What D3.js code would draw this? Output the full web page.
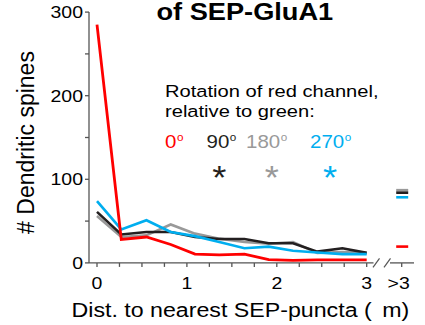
<!DOCTYPE html>
<html><head><meta charset="utf-8">
<script src="https://cdn.jsdelivr.net/npm/d3@7"></script>
<style>html,body{margin:0;padding:0;background:#fff;}svg{display:block;}</style>
</head><body>
<svg id="c" width="425" height="325"></svg>
<script>
// ---- data ----
const bins = [0, 0.27, 0.55, 0.82, 1.09, 1.36, 1.64, 1.91, 2.18, 2.45, 2.73, 3.0];
const seriesNames = ["180", "90", "270", "0"];
const gray180 = [56, 31, 33, 46, 35, 29, 25, 23, 25, 12, 13, 12];
const black90 = [61, 34, 37, 37, 31, 28.5, 28.5, 23.5, 23.5, 13.5, 17.5, 12];
const blue270 = [74, 40, 51, 37, 32, 25, 17.5, 19.5, 14.5, 12.5, 10.5, 10.5];
const red0 = [285, 28, 31, 22, 10.5, 9.5, 10.5, 4, 3, 3.5, 3.5, 3.5];
const over3 = [87, 84, 78.5, 19.5]; // gray, black, blue, red
const seriesColors = ["#999999", "#231f20", "#00aeef", "#ff0000"];
const yTicks = [0, 100, 200, 300];
const yMinor = [50, 150, 250];
const xTickLabels = ["0", "1", "2", "3"];

const svg = d3.select("#c");
const FONT = "Liberation Sans, Arial, Helvetica, sans-serif";
const x = d3.scaleLinear().domain([0, 3]).range([97, 366.7]);
const y = d3.scaleLinear().domain([0, 300]).range([262.9, 12.1]);
const x0 = 89, yBase = y(0);
const overX = x(3) + 35;
const axisColor = "#555";

function txt(px, py, str, o = {}) {
  const t = svg.append("text")
    .attr("transform", `translate(${px},${py}) scale(${o.sx || 1.17},1)` + (o.rot ? ` rotate(${o.rot})` : ""))
    .attr("font-family", FONT)
    .attr("font-size", o.fs || 17)
    .attr("font-weight", o.bold ? "bold" : "normal")
    .attr("text-anchor", o.anchor || "start")
    .attr("fill", o.fill || "#000");
  if (str !== null) t.text(str);
  return t;
}

// ---- y axis ----
const yAxis = svg.append("g");
yAxis.append("line").attr("x1", x0).attr("x2", x0).attr("y1", y(300)).attr("y2", yBase)
  .attr("stroke", axisColor).attr("stroke-width", 1.3);
yTicks.concat(yMinor).forEach(v => {
  yAxis.append("line").attr("x1", x0 - 4).attr("x2", x0).attr("y1", y(v)).attr("y2", y(v))
    .attr("stroke", axisColor).attr("stroke-width", 1.3);
});
yTicks.forEach(v => txt(83, y(v) + 6, String(v), {anchor: "end", fs: 16.5, sx: 1.18}));

// ---- x axis ----
const xAxis = svg.append("g");
xAxis.append("line").attr("x1", x0).attr("x2", 373.5).attr("y1", yBase).attr("y2", yBase)
  .attr("stroke", axisColor).attr("stroke-width", 1.3);
xAxis.append("line").attr("x1", 390).attr("x2", 414).attr("y1", yBase).attr("y2", yBase)
  .attr("stroke", axisColor).attr("stroke-width", 1.3);
[[373, 379.5], [384, 390.5]].forEach(([a, b]) => {
  xAxis.append("line").attr("x1", a).attr("x2", b).attr("y1", yBase + 4.5).attr("y2", yBase - 4.5)
    .attr("stroke", axisColor).attr("stroke-width", 1.2);
});
d3.range(0, 13).map(i => i * 0.25).forEach(v => {
  xAxis.append("line").attr("x1", x(v)).attr("x2", x(v)).attr("y1", yBase).attr("y2", yBase + 4)
    .attr("stroke", axisColor).attr("stroke-width", 1.3);
});
xAxis.append("line").attr("x1", overX).attr("x2", overX).attr("y1", yBase).attr("y2", yBase + 4)
  .attr("stroke", axisColor).attr("stroke-width", 1.3);
xTickLabels.forEach((s, i) => txt(x(i), 288.5, s, {anchor: "middle", fs: 16.5, sx: 1.18}));
txt(overX - 3, 288.5, ">3", {anchor: "middle", fs: 16.5, sx: 1.18});

// ---- axis titles ----
const xt = txt(71.5, 316.5, null, {fs: 20, sx: 1.16});
xt.append("tspan").text("Dist. to nearest SEP-puncta (");
xt.append("tspan").attr("dx", 9).text("m)");
txt(33.5, 142.5, "# Dendritic spines", {anchor: "middle", fs: 23, sx: 1, rot: -90});

// ---- title (partially visible) ----
txt(156.5, 20.3, "of SEP-GluA1", {fs: 24.5, bold: true, sx: 1.11});

// ---- lines ----
const line = d3.line().x((d, i) => x(bins[i])).y(d => y(d));
[gray180, black90, blue270, red0].forEach((arr, k) => {
  svg.append("path").datum(arr).attr("d", line).attr("fill", "none")
    .attr("stroke", seriesColors[k]).attr("stroke-width", k === 3 ? 2.8 : 2.6)
    .attr("stroke-linejoin", "miter");
});
over3.forEach((v, k) => {
  svg.append("line").attr("x1", overX - 5.5).attr("x2", overX + 6.5).attr("y1", y(v)).attr("y2", y(v))
    .attr("stroke", seriesColors[k]).attr("stroke-width", 2.6);
});

// ---- legend ----
txt(165, 97.3, "Rotation of red channel,", {fs: 17.2});
txt(165, 116.5, "relative to green:", {fs: 17.2});
const legItems = [["0", 165, 3], ["90", 206.5, 1], ["180", 246, 0], ["270", 310, 2]];
legItems.forEach(([s, px, k]) => {
  const t = txt(px, 148.3, null, {fs: 17.5, fill: seriesColors[k]});
  t.append("tspan").text(s);
  t.append("tspan").attr("font-size", 10).attr("dy", -7).attr("dx", 0.5).text("o");
});
[[219.3, 1], [271.7, 0], [330, 2]].forEach(([px, k]) => {
  txt(px, 189, "*", {fs: 33, anchor: "middle", fill: seriesColors[k], sx: 1.1});
});
</script>
</body></html>
